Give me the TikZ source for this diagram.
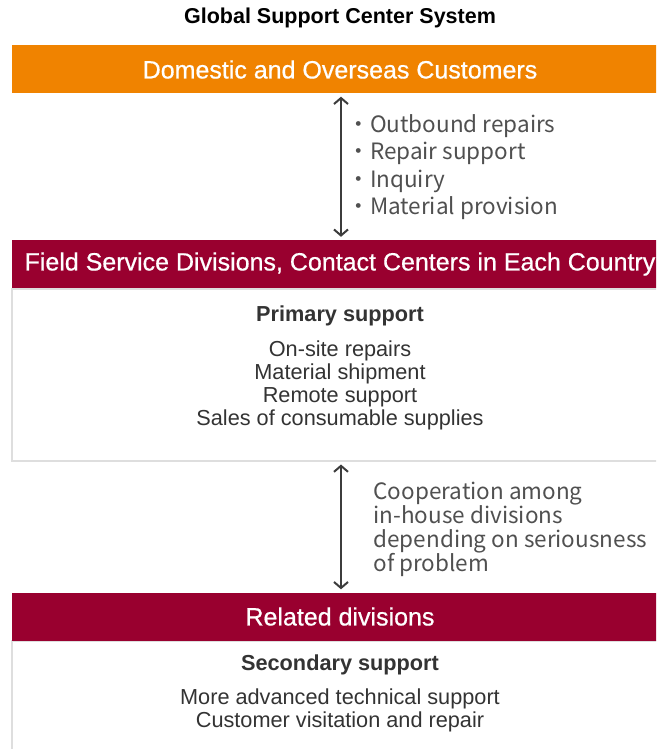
\documentclass[tikz,border=0pt]{standalone}
\usepackage{fontspec}
\setmainfont{Liberation Sans}
\newfontfamily\jpfont{Noto Sans CJK JP}
\newfontfamily\barfont[FakeBold=0.6]{Liberation Sans}
\usetikzlibrary{arrows.meta}
\definecolor{custorange}{HTML}{F08300}
\definecolor{divred}{HTML}{99002F}
\definecolor{arrowgray}{HTML}{3C3C3C}
\definecolor{bodygray}{HTML}{333333}
\definecolor{notegray}{HTML}{505050}
\definecolor{framegray}{HTML}{DEDEDE}

\begin{document}
\begin{tikzpicture}[x=1pt,y=-1pt,
    header/.style={fill=#1, text=white, minimum width=656pt, minimum height=48pt,
        inner sep=0pt, font=\barfont\fontsize{25}{28}\selectfont},
    panel/.style={draw=framegray, line width=1.5pt, fill=white, minimum width=656pt,
        minimum height=#1, inner sep=0pt, anchor=north},
    bodytext/.style={text=bodygray, align=center, font=\fontsize{21.7}{23}\selectfont},
    headline/.style={text=bodygray, font=\bfseries\fontsize{21.7}{24}\selectfont},
    notetext/.style={text=notegray, align=left, anchor=west, font=\jpfont\fontsize{22.5}{#1}\selectfont},
    twoway/.style={draw=arrowgray, line width=2pt, shorten <=3pt, shorten >=3pt,
        {Straight Barb[length=6pt,width=14pt]}-{Straight Barb[length=6pt,width=14pt]}}
]
    \clip (0,0) rectangle (656,749);

    \node[font=\bfseries\fontsize{21.5}{24}\selectfont] (title) at (340,18) {Global Support Center System};

    % customers
    \node[header=custorange] (cust) at (340,69.5) {Domestic and Overseas Customers};

    % first level
    \node[panel=172pt] (primary) at (340,288) {};
    \node[header=divred] (field) at (340,264) {Field Service Divisions, Contact Centers in Each Country};
    \node[headline] (primhead) at (340,316) {Primary support};
    \node[bodytext] (primlist) at (340,385) {On-site repairs\\Material shipment\\Remote support\\Sales of consumable supplies};

    % second level
    \node[panel=110pt] (secondary) at (340,640) {};
    \node[header=divred] (related) at (340,616.5) {Related divisions};
    \node[headline] (sechead) at (340,665) {Secondary support};
    \node[bodytext] (seclist) at (340,710) {More advanced technical support\\Customer visitation and repair};

    % connectors
    \coordinate (axis) at (341,0);
    \draw[twoway] (cust.south -| axis) -- (field.north -| axis);
    \draw[twoway] (primary.south -| axis) -- (related.north -| axis);

    \node[notetext=27.5] (services) at (344,167) {・Outbound repairs\\・Repair support\\・Inquiry\\・Material provision};
    \node[notetext=24] (coop) at (370,529) {Cooperation among\\in-house divisions\\depending on seriousness\\of problem};
\end{tikzpicture}
\end{document}
